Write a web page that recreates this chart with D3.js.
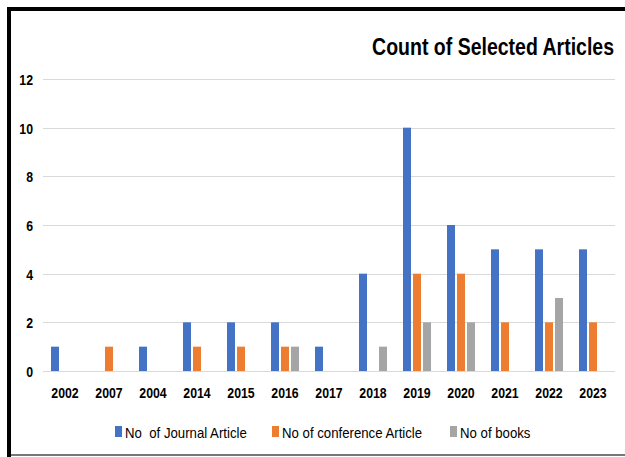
<!DOCTYPE html>
<html>
<head>
<meta charset="utf-8">
<script src="https://cdn.jsdelivr.net/npm/d3@7"></script>
<style>
    body { margin: 0; background: #fff; }
    svg text { font-family: "Liberation Sans", Arial, sans-serif; fill: #000; }
    .tick-label { font-weight: bold; font-size: 15px; }
    .legend-text { font-size: 15px; }
    .title { font-size: 23px; font-weight: bold; }
</style>
</head>
<body>
<div id="chart"></div>
<script>

const years = ['2002', '2007', '2004', '2014', '2015', '2016', '2017', '2018', '2019', '2020', '2021', '2022', '2023'];
const journal = [1, 0, 1, 2, 2, 2, 1, 4, 10, 6, 5, 5, 5];
const conference = [0, 1, 0, 1, 1, 1, 0, 0, 4, 4, 2, 2, 2];
const books = [0, 0, 0, 0, 0, 1, 0, 1, 2, 2, 0, 3, 0];
const seriesNames = ['No  of Journal Article', 'No of conference Article', 'No of books'];
const yTicks = [0, 2, 4, 6, 8, 10, 12];

const colors = ['#4472C4', '#ED7D31', '#A5A5A5'];

const width = 625;
const height = 457;

let margin = {
    top: 79,
    right: 10,
    bottom: 86,
    left: 43
};

// the reference uses a narrow font, squeeze the glyphs to match
function condense(sel, k) {
    sel.each(function() {
        var len = this.getComputedTextLength();
        d3.select(this)
            .attr("textLength", len * k)
            .attr("lengthAdjust", "spacingAndGlyphs");
    });
}

var svg = d3.select("#chart")
    .append("svg")
    .attr("width", width)
    .attr("height", height);

// frame: thick black left/top edge, grey bottom line
svg.append("rect").attr("x", 7).attr("y", 7).attr("width", width - 7).attr("height", 4).attr("fill", "#000");
svg.append("rect").attr("x", 7).attr("y", 7).attr("width", 4).attr("height", height - 7).attr("fill", "#000");
svg.append("rect").attr("x", 11).attr("y", 454).attr("width", width - 11).attr("height", 2).attr("fill", "#777");

let plotWidth = width - margin.left - margin.right;
let plotHeight = height - margin.top - margin.bottom;

var xScale = d3.scaleBand()
    .domain(years)
    .range([0, plotWidth]);

var yScale = d3.scaleLinear()
    .domain([0, 12])
    .range([plotHeight, 0]);

var subScale = d3.scaleBand()
    .domain([0, 1, 2])
    .range([xScale.bandwidth() / 2 - 14, xScale.bandwidth() / 2 + 14])
    .paddingInner(0.2);

var plot = svg.append("g")
    .attr("transform", "translate(" + margin.left + "," + margin.top + ")");

// gridlines
plot.append("g")
    .selectAll("line")
    .data(yTicks)
    .join("line")
    .attr("x1", 0)
    .attr("x2", plotWidth)
    .attr("y1", d => Math.round(yScale(d)) + 0.5)
    .attr("y2", d => Math.round(yScale(d)) + 0.5)
    .attr("stroke", "#d9d9d9")
    .attr("stroke-width", 1);

var yAxis = d3.axisLeft(yScale).tickValues(yTicks).tickSize(0).tickPadding(10);
var yGroup = plot.append("g").call(yAxis);
yGroup.select(".domain").remove();
yGroup.selectAll("text").attr("class", "tick-label").attr("dy", "0.36em");
condense(yGroup.selectAll("text"), 0.82);

var xAxis = d3.axisBottom(xScale).tickSize(0).tickPadding(16);
var xGroup = plot.append("g")
    .attr("transform", "translate(0," + plotHeight + ")")
    .call(xAxis);
xGroup.select(".domain").remove();
xGroup.selectAll("text").attr("class", "tick-label");
condense(xGroup.selectAll("text"), 0.82);

var allSeries = [journal, conference, books];

allSeries.forEach(function(vals, s) {
    plot.append("g")
        .selectAll("rect")
        .data(vals.map((v, i) => ({ key: years[i], value: v })).filter(d => d.value > 0))
        .join("rect")
        .attr("x", d => xScale(d.key) + subScale(s))
        .attr("width", subScale.bandwidth())
        .attr("y", d => yScale(d.value))
        .attr("height", d => plotHeight - yScale(d.value))
        .attr("fill", colors[s]);
});

// title, squeezed with a transform so it ends at x=614 and is 242px wide
var title = svg.append("text")
    .attr("class", "title")
    .attr("x", 0)
    .attr("y", 0)
    .attr("text-anchor", "end")
    .text("Count of Selected Articles");
var titleK = 242 / title.node().getComputedTextLength();
title.attr("transform", "translate(614,55) scale(" + titleK + ",1)");

// legend
var legendX = [115, 272, 450];
var legend = svg.append("g");
seriesNames.forEach(function(name, i) {
    legend.append("rect")
        .attr("x", legendX[i])
        .attr("y", 426)
        .attr("width", 7)
        .attr("height", 11)
        .attr("fill", colors[i]);
    legend.append("text")
        .attr("class", "legend-text")
        .attr("x", legendX[i] + 10)
        .attr("y", 437.5)
        .attr("xml:space", "preserve")
        .text(name);
});
condense(legend.selectAll("text"), 0.88);

</script>
</body>
</html>
